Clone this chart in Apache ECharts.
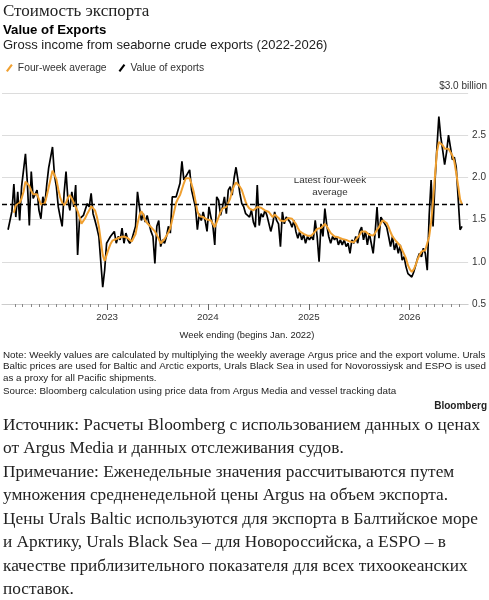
<!DOCTYPE html>
<html><head><meta charset="utf-8">
<script src="https://cdn.jsdelivr.net/npm/echarts@6/dist/echarts.min.js"></script>
<style>html,body{margin:0;padding:0;background:#fff}#c{width:489px;height:600px}</style>
</head><body><div id="c"></div>
<script>
// Weekly series, first week ending 2022-01-07
const firstWeek = [2022, 0, 7];
const valueOfExports = [
1.38,1.38,1.60,1.92,1.53,1.83,1.49,1.89,1.90,2.28,1.93,1.43,2.07,1.75,1.75,1.85,1.61,1.51,1.77,1.67,
1.91,2.11,2.09,2.36,2.03,1.89,1.65,1.53,1.42,1.81,2.07,1.73,1.61,1.83,1.65,1.91,1.08,1.51,1.53,1.55,
1.57,1.69,1.65,1.81,1.57,1.49,1.40,1.30,1.00,0.70,0.90,1.22,1.26,1.30,1.32,1.36,1.22,1.30,1.26,1.40,
1.22,1.34,1.26,1.22,1.26,1.24,1.42,1.83,1.65,1.49,1.57,1.47,1.55,1.45,1.36,1.30,0.98,1.42,1.49,1.18,
1.26,1.22,1.30,1.42,1.34,1.77,1.75,1.77,1.85,1.93,2.19,1.97,2.01,2.03,2.09,1.85,1.75,1.65,1.38,1.57,
1.49,1.59,1.49,1.36,1.65,1.53,1.43,1.20,1.77,1.73,1.55,1.65,1.77,1.57,1.85,1.89,1.79,1.99,2.12,1.97,
1.81,1.69,1.65,1.57,1.55,1.53,1.61,1.47,1.41,1.91,1.43,1.57,1.53,1.61,1.55,1.53,1.36,1.45,1.59,1.49,
1.45,1.18,1.59,1.45,1.53,1.55,1.47,1.41,1.49,1.36,1.28,1.36,1.26,1.32,1.22,1.30,1.26,1.30,1.26,1.49,
1.30,1.00,1.45,1.30,1.63,1.43,1.30,1.22,1.30,1.26,1.30,1.20,1.26,1.20,1.26,1.18,1.22,1.10,1.26,1.22,
1.30,1.22,1.36,1.41,1.26,1.36,1.20,1.34,1.22,1.10,1.34,1.65,1.28,1.53,1.51,1.45,1.41,1.30,1.18,1.30,
1.14,1.22,1.10,1.20,1.02,1.06,0.94,0.86,0.84,0.82,0.88,0.96,1.04,1.10,1.06,1.16,1.10,0.90,1.55,1.97,
1.42,1.95,2.35,2.72,2.48,2.32,2.15,2.30,2.50,2.36,2.21,2.24,2.12,1.75,1.38,1.42
];
const fourWeekAverage = [
null,null,null,1.58,1.67,1.69,1.70,1.75,1.83,1.95,1.97,1.90,1.84,1.80,1.79,1.80,1.74,1.68,1.67,1.69,
1.78,1.88,1.98,2.08,2.07,1.98,1.86,1.76,1.70,1.67,1.70,1.76,1.79,1.75,1.70,1.65,1.60,1.53,1.45,1.43,
1.52,1.57,1.61,1.66,1.65,1.61,1.53,1.42,1.25,1.08,1.01,1.02,1.15,1.21,1.25,1.27,1.27,1.28,1.29,1.30,
1.30,1.30,1.28,1.26,1.24,1.25,1.33,1.45,1.55,1.60,1.56,1.49,1.46,1.45,1.41,1.40,1.36,1.32,1.27,1.22,
1.23,1.27,1.31,1.35,1.40,1.50,1.60,1.70,1.75,1.79,1.86,1.93,1.99,2.01,1.99,1.92,1.84,1.72,1.60,1.54,
1.54,1.53,1.51,1.50,1.51,1.49,1.45,1.41,1.47,1.53,1.59,1.63,1.63,1.65,1.67,1.75,1.84,1.90,1.94,1.93,
1.89,1.85,1.78,1.71,1.66,1.63,1.61,1.61,1.63,1.65,1.67,1.64,1.62,1.61,1.60,1.59,1.56,1.53,1.56,1.55,
1.52,1.49,1.47,1.48,1.49,1.52,1.52,1.51,1.48,1.45,1.40,1.36,1.34,1.33,1.32,1.31,1.30,1.31,1.33,1.36,
1.39,1.41,1.40,1.42,1.45,1.42,1.38,1.34,1.32,1.30,1.30,1.29,1.28,1.27,1.27,1.26,1.25,1.24,1.22,1.23,
1.26,1.28,1.32,1.36,1.36,1.36,1.34,1.32,1.30,1.31,1.34,1.38,1.41,1.46,1.49,1.49,1.46,1.41,1.35,1.30,
1.27,1.24,1.22,1.19,1.14,1.09,1.04,0.96,0.91,0.88,0.91,0.96,1.03,1.08,1.12,1.13,1.14,1.15,1.30,1.47,
1.72,2.02,2.30,2.42,2.44,2.38,2.34,2.34,2.34,2.32,2.26,2.19,2.05,1.90,1.74,1.68
];
const latestFourWeek = 1.68;
const yTicks = [0.5, 1.0, 1.5, 2.0, 2.5, 3.0];
const yearTicks = [2023, 2024, 2025, 2026];

const DAY = 86400000;
const t0 = Date.UTC(firstWeek[0], firstWeek[1], firstWeek[2]);
const wk = i => t0 + i * 7 * DAY;
const blackData = valueOfExports.map((v, i) => [wk(i), v]);
const orangeData = fourWeekAverage.map((v, i) => [wk(i), v]);
const xMin = Date.UTC(2021, 11, 16), xMax = Date.UTC(2026, 7, 1);
const monthTicks = [];
for (let y = 2022; y <= 2026; y++) for (let m = 0; m < 12; m++) {
  const t = Date.UTC(y, m, 1);
  if (m !== 0 && t > xMin && t < xMax) monthTicks.push(t);
}
const yearTs = yearTicks.map(y => Date.UTC(y, 0, 1));

const SANS = '"Liberation Sans", Arial, sans-serif';
const SERIF = '"Liberation Serif", "DejaVu Serif", serif';
const chart = echarts.init(document.getElementById('c'), null, {renderer: 'canvas'});

function txt(text, x, y, font, fill, align) {
  return {type: 'text', x: x, y: y, silent: true,
    style: {text: text, font: font, fill: fill || '#222', textAlign: align || 'left', textVerticalAlign: 'middle', align: align || 'left', verticalAlign: 'middle'}};
}
const ruLines = [
 'Источник: Расчеты Bloomberg с использованием данных о ценах',
 'от Argus Media и данных отслеживания судов.',
 'Примечание: Еженедельные значения рассчитываются путем',
 'умножения средненедельной цены Argus на объем экспорта.',
 'Цены Urals Baltic используются для экспорта в Балтийское море',
 'и Арктику, Urals Black Sea – для Новороссийска, а ESPO – в',
 'качестве приблизительного показателя для всех тихоокеанских',
 'поставок.'
];
const noteLines = [
 'Note: Weekly values are calculated by multiplying the weekly average Argus price and the export volume. Urals',
 'Baltic prices are used for Baltic and Arctic exports, Urals Black Sea in used for Novorossiysk and ESPO is used',
 'as a proxy for all Pacific shipments.',
 'Source: Bloomberg calculation using price data from Argus Media and vessel tracking data'
];
const graphics = [
  txt('Стоимость экспорта', 3, 12, '17px ' + SERIF, '#222'),
  txt('Value of Exports', 3, 30, 'bold 13.2px ' + SANS, '#000'),
  txt('Gross income from seaborne crude exports (2022-2026)', 3, 45, '13px ' + SANS, '#222'),
  txt('$3.0 billion', 487, 86, '10px ' + SANS, '#333', 'right'),
  txt('Latest four-week', 330, 180, '9.8px ' + SANS, '#333', 'center'),
  txt('average', 330, 192, '9.8px ' + SANS, '#333', 'center'),
  txt('Week ending (begins Jan. 2022)', 247, 335, '9.4px ' + SANS, '#222', 'center'),
  txt('Bloomberg', 487, 406, 'bold 10px ' + SANS, '#222', 'right')
];
[355, 366.5, 378, 391].forEach((y, i) => graphics.push(txt(noteLines[i], 3, y, '9.8px ' + SANS, '#222')));
ruLines.forEach((l, i) => graphics.push(txt(l, 3, 425 + i * 23.5, '17.3px ' + SERIF, '#222')));

chart.setOption({
  animation: false,
  backgroundColor: '#fff',
  legend: {
    left: 1, top: 58, itemWidth: 7, itemHeight: 8, itemGap: 12,
    textStyle: {fontFamily: SANS, fontSize: 10.3, color: '#333'},
    data: [
      {name: 'Four-week average', icon: 'path://M0,8 L6,0 L8,1.5 L2,9.5 Z', itemStyle: {color: '#f0a030'}},
      {name: 'Value of exports', icon: 'path://M0,8 L6,0 L8,1.5 L2,9.5 Z', itemStyle: {color: '#000'}}
    ]
  },
  grid: {left: 2, right: 20, top: 93, bottom: 296, containLabel: false},
  xAxis: [{
    type: 'value', min: xMin, max: xMax,
    axisLine: {show: true, lineStyle: {color: '#ccc', width: 1}},
    axisTick: {show: true, customValues: monthTicks, length: 3, lineStyle: {color: '#888'}},
    axisLabel: {show: false},
    splitLine: {show: false}
  }, {
    type: 'value', min: xMin, max: xMax, position: 'bottom',
    axisLine: {show: false},
    axisTick: {show: true, customValues: yearTs, length: 6, lineStyle: {color: '#666'}},
    axisLabel: {show: true, customValues: yearTs, margin: 8, fontFamily: SANS, fontSize: 9.8, color: '#333',
      formatter: v => String(new Date(v).getUTCFullYear())},
    splitLine: {show: false}
  }],
  yAxis: {
    type: 'value', position: 'right', min: 0.5, max: 3.0, interval: 0.5,
    axisLine: {show: false}, axisTick: {show: false},
    axisLabel: {margin: 4, align: 'left', fontFamily: SANS, fontSize: 10, color: '#333',
      formatter: v => (Math.abs(v - 3) < 1e-9 ? '' : v.toFixed(1))},
    splitLine: {show: true, lineStyle: {color: '#dcdcdc', width: 1}}
  },
  series: [{
    name: 'Value of exports', type: 'line', data: blackData, showSymbol: false,
    lineStyle: {color: '#000', width: 1.7}, itemStyle: {color: '#000'}, z: 2,
    markLine: {silent: true, symbol: 'none', label: {show: false},
      lineStyle: {color: '#000', type: [5, 3], width: 1.3}, data: [{yAxis: latestFourWeek}]}
  }, {
    name: 'Four-week average', type: 'line', data: orangeData, showSymbol: false,
    lineStyle: {color: '#f0a030', width: 2}, itemStyle: {color: '#f0a030'}, z: 3
  }],
  graphic: graphics
});
</script></body></html>
